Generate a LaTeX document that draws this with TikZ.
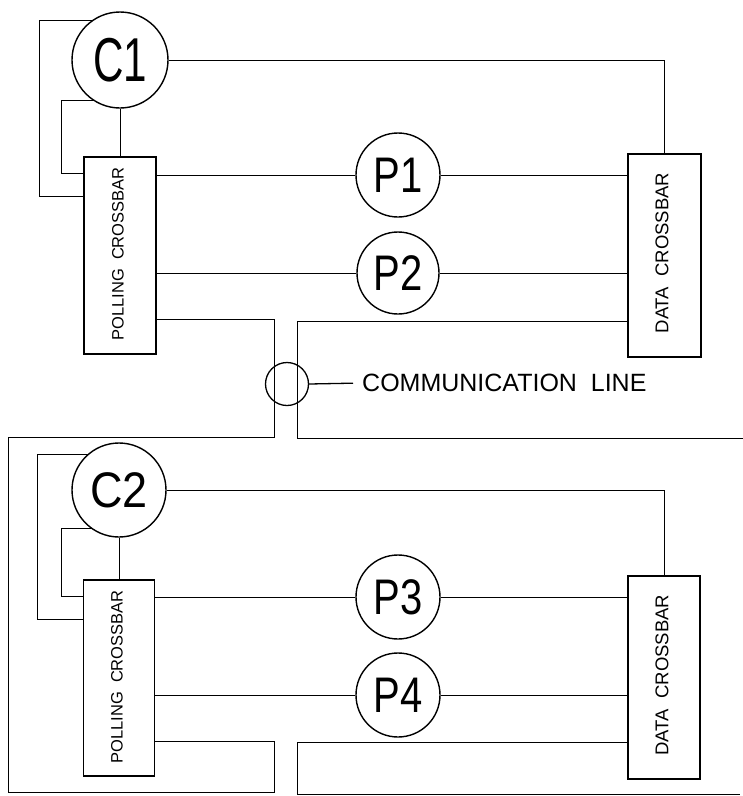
\documentclass[tikz,border=0pt]{standalone}
\usepackage{fontspec}
\setmainfont{Liberation Sans}
\usetikzlibrary{backgrounds}
\newcommand{\fsz}[1]{\fontsize{#1}{#1}\selectfont}
\begin{document}
\begin{tikzpicture}[x=1pt,y=-1pt,
  ring/.style={circle,draw,fill=white,inner sep=0pt,line width=1.4pt},
  bar/.style={rectangle,draw,fill=white,inner sep=0pt,line width=1.5pt},
  wire/.style={line width=1.3pt},
  vlabel/.style={rotate=90,inner sep=0pt}]
\useasboundingbox (0,0) rectangle (743,796);

% ---------- upper group ----------
\node[ring,minimum size=96pt] (C1) at (120,60) {\fsz{62}\scalebox{0.68}[1]{C1}};
\node[bar,minimum width=72pt,minimum height=197pt] (PC1) at (120,255.5) {};
\node[vlabel] (PC1t) at (118,254) {\fsz{16.5}POLLING\ \ CROSSBAR};
\node[bar,minimum width=73pt,minimum height=203pt] (DC1) at (664.5,255.5) {};
\node[vlabel] (DC1t) at (662,253) {\fsz{18.5}DATA\ \ CROSSBAR};
\node[ring,minimum size=84pt] (P1) at (398,175) {\fsz{50}\scalebox{0.8}[1]{P1}};
\node[ring,minimum size=82pt] (P2) at (398,273) {\fsz{50}\scalebox{0.8}[1]{P2}};

% ---------- lower group ----------
\node[ring,minimum size=94pt] (C2) at (119,490) {\fsz{50}\scalebox{0.9}[1]{C2}};
\node[bar,minimum width=71pt,minimum height=196pt] (PC2) at (119,678) {};
\node[vlabel] (PC2t) at (117,677) {\fsz{16.5}POLLING\ \ CROSSBAR};
\node[bar,minimum width=72pt,minimum height=203pt] (DC2) at (664,677.5) {};
\node[vlabel] (DC2t) at (662,675) {\fsz{18.5}DATA\ \ CROSSBAR};
\node[ring,minimum size=84pt] (P3) at (398,597) {\fsz{50}\scalebox{0.8}[1]{P3}};
\node[ring,minimum size=84pt] (P4) at (398,695) {\fsz{50}\scalebox{0.8}[1]{P4}};

% ---------- communication line ----------
\node[circle,draw,inner sep=0pt,minimum size=43pt,line width=1.3pt] (CM) at (287,384) {};
\node[anchor=west,inner sep=0pt] (CMt) at (362,383) {\fsz{25}COMMUNICATION\ \ LINE};

\begin{scope}[on background layer, wire]
  % upper controller loops
  \coordinate (b1) at (39,20);  \coordinate (b2) at (39,196);
  \draw (C1.center |- b1) -- (b1) -- (b2) -- (PC1.west |- b2);
  \coordinate (a1) at (61,100); \coordinate (a2) at (61,173);
  \draw (C1.center |- a1) -- (a1) -- (a2) -- (PC1.west |- a2);
  \draw (C1) -- (PC1);
  \draw (C1.east) -| (DC1.north);
  \draw (PC1.east |- P1) -- (P1);
  \draw (P1) -- (DC1.west |- P1);
  \draw (PC1.east |- P2) -- (P2);
  \draw (P2) -- (DC1.west |- P2);

  % lower controller loops
  \coordinate (f1) at (37,454); \coordinate (f2) at (37,619);
  \draw (C2.center |- f1) -- (f1) -- (f2) -- (PC2.west |- f2);
  \coordinate (g1) at (61,528); \coordinate (g2) at (61,596);
  \draw (C2.center |- g1) -- (g1) -- (g2) -- (PC2.west |- g2);
  \draw (C2) -- (PC2);
  \draw (C2.east) -| (DC2.north);
  \draw (PC2.east |- P3) -- (P3);
  \draw (P3) -- (DC2.west |- P3);
  \draw (PC2.east |- P4) -- (P4);
  \draw (P4) -- (DC2.west |- P4);

  % communication line: polling side
  \coordinate (c1) at (274,319); \coordinate (c2) at (274,437);
  \coordinate (c3) at (8,437);   \coordinate (c4) at (8,792);
  \coordinate (c5) at (274,792); \coordinate (c6) at (274,741);
  \draw (PC1.east |- c1) -- (c1) -- (c2) -- (c3) -- (c4) -- (c5) -- (c6) -- (PC2.east |- c6);
  % communication line: data side
  \coordinate (d1) at (297,321); \coordinate (d2) at (297,438); \coordinate (d3) at (743,438);
  \draw (DC1.west |- d1) -- (d1) -- (d2) -- (d3);
  \coordinate (e1) at (297,742); \coordinate (e2) at (297,794); \coordinate (e3) at (740,794);
  \draw (DC2.west |- e1) -- (e1) -- (e2) -- (e3);
\end{scope}

\draw[wire,shorten >=9pt] (CM.east) -- (CMt.west);
\end{tikzpicture}
\end{document}
